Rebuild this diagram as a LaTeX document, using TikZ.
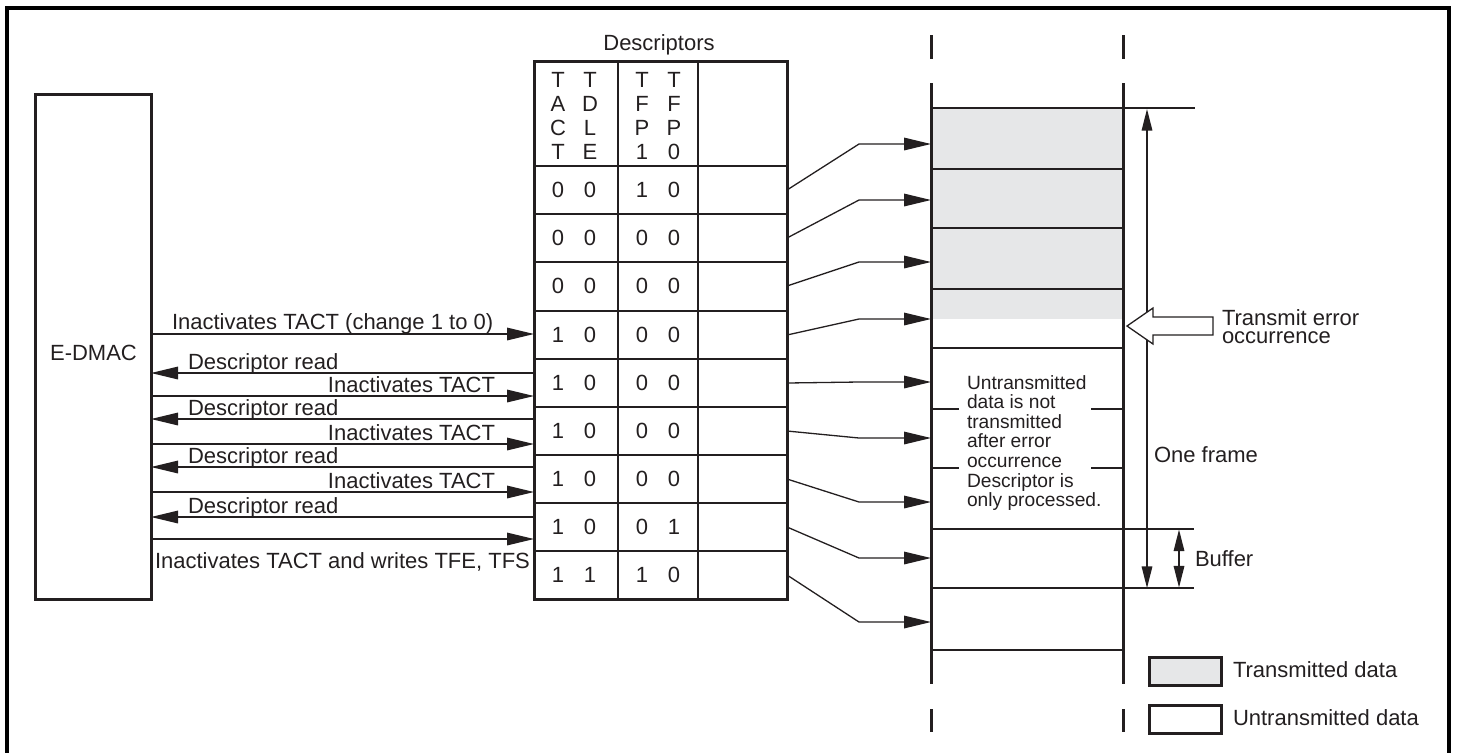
\documentclass[tikz,border=0pt]{standalone}
\usepackage{fontspec}
\setmainfont{Liberation Sans}
\usetikzlibrary{arrows.meta}
\definecolor{ink}{RGB}{35,31,32}
\definecolor{txgray}{RGB}{230,231,232}
\begin{document}
\begin{tikzpicture}[x=0.5pt,y=-0.5pt,
  every node/.style={inner sep=0pt,outer sep=0pt,text=ink,font=\fontsize{11}{12}\selectfont},
  frame/.style={draw=black,line width=2pt},
  thickbox/.style={draw=ink,line width=1.5pt},
  cellline/.style={draw=ink,line width=0.9pt},
  thin/.style={draw=ink,line width=0.7pt},
  arr/.style={draw=ink,line width=0.65pt,-{Triangle[length=13.5pt,width=6.3pt]}},
  larr/.style={draw=ink,line width=0.65pt,{Triangle[length=13.5pt,width=6.3pt]}-},
  varr/.style={draw=ink,line width=0.65pt,{Triangle[length=10.8pt,width=5.3pt]}-{Triangle[length=10.8pt,width=5.3pt]}},
  lbl/.style={anchor=base west},
  rlbl/.style={anchor=base east},
  note/.style={anchor=base west,font=\fontsize{9.6}{9.8}\selectfont},
  digit/.style={anchor=base}]
\useasboundingbox (0,0) rectangle (1457,752);

% outer frame
\draw[frame] (7,770) -- (7,8) -- (1449,8) -- (1449,770);

% E-DMAC block
\node[thickbox,minimum width=58pt,minimum height=252.5pt] (edmac) at (93,346.5) {};
\node[anchor=base] (edmaclbl) at (93.5,360) {E-DMAC};

% descriptor table
\node[anchor=base] (desclbl) at (659,50) {Descriptors};
\node[thickbox,minimum width=126.5pt,minimum height=269pt] (tbl) at (660.5,330) {};
\draw[cellline] (618,61) -- (618,599);
\draw[cellline] (698,61) -- (698,599);
\foreach \y in {166,214,262,311,359,407,455,503,551}
  \draw[cellline] (tbl.west |- 0,\y) -- (tbl.east |- 0,\y);

% header letters
\foreach \l [count=\i] in {T,A,C,T} \node[digit] (hA\i) at (558,63+24*\i) {\l};
\foreach \l [count=\i] in {T,D,L,E} \node[digit] (hB\i) at (590,63+24*\i) {\l};
\foreach \l [count=\i] in {T,F,P,1} \node[digit] (hC\i) at (642,63+24*\i) {\l};
\foreach \l [count=\i] in {T,F,P,0} \node[digit] (hD\i) at (674,63+24*\i) {\l};

% row values
\foreach \r/\a/\b/\c/\d [count=\i] in {190/0/0/1/0,238/0/0/0/0,286/0/0/0/0,335/1/0/0/0,383/1/0/0/0,431/1/0/0/0,479/1/0/0/0,527/1/0/0/1,575/1/1/1/0} {
  \node[digit] (v\i-a) at (558,\r+7.5) {\a};
  \node[digit] (v\i-b) at (590,\r+7.5) {\b};
  \node[digit] (v\i-c) at (642,\r+7.5) {\c};
  \node[digit] (v\i-d) at (674,\r+7.5) {\d};
}

% E-DMAC <-> descriptor arrows
\draw[arr] (edmac.east |- 0,334) -- (tbl.west |- 0,334);
\node[lbl] (l0) at (172,329) {Inactivates TACT (change 1 to 0)};
\foreach \y [count=\i] in {373,419,467,517} {
  \draw[larr] (edmac.east |- 0,\y) -- (tbl.west |- 0,\y);
  \node[lbl] (dr\i) at (188,\y-4) {Descriptor read};
}
\foreach \y [count=\i] in {396,444,492} {
  \draw[arr] (edmac.east |- 0,\y) -- (tbl.west |- 0,\y);
  \node[rlbl] (ia\i) at (495,\y-4) {Inactivates TACT};
}
\draw[arr] (edmac.east |- 0,539) -- (tbl.west |- 0,539);
\node[lbl] (llast) at (155,568) {Inactivates TACT and writes TFE, TFS};

% buffer area
\node[minimum width=96pt,minimum height=300.5pt] (buf) at (1027,383.5) {};
\fill[txgray] (931,108) rectangle (1123,319);
\draw[thin] (931,108) -- (1195,108);
\foreach \y in {169,228,289,348,650} \draw[thin] (931,\y) -- (1123,\y);
\foreach \y in {409,468} {
  \draw[thin] (931,\y) -- (959,\y);
  \draw[thin] (1091,\y) -- (1123,\y);
}
\draw[thin] (931,529) -- (1194,529);
\draw[thin] (931,588) -- (1194,588);
\draw[thickbox] (buf.north west) -- (buf.south west);
\draw[thickbox] (buf.north east) -- (buf.south east);
\draw[thickbox] (931,35) -- (931,59);
\draw[thickbox] (1123,35) -- (1123,59);
\draw[thickbox] (931,709) -- (931,732);
\draw[thickbox] (1123,709) -- (1123,732);

% descriptor -> buffer arrows
\foreach \s/\t in {190/144,238/200,286/262,335/319,383/382,431/438,479/502,527/558,575/622}
  \draw[arr] (tbl.east |- 0,\s) -- (859,\t) -- (buf.west |- 0,\t);

% note
\foreach \t [count=\i] in {Untransmitted,data is not,transmitted,after error,occurrence,Descriptor is,only processed.}
  \node[note] (n\i) at (967,389+19.6*\i-19.6) {\t};

% one frame / buffer dimension arrows
\draw[varr] (1147,109) -- (1147,588);
\node[lbl] (oneframe) at (1154,462) {One frame};
\draw[varr] (1179,529.5) -- (1179,587.5);
\node[lbl] (bufferlbl) at (1195,566) {Buffer};

% transmit error hollow arrow
\draw[draw=ink,line width=0.65pt,fill=white] (1127,326) -- (1153,308) -- (1153,317) -- (1213,317) -- (1213,335) -- (1153,335) -- (1153,344) -- cycle;
\node[anchor=north west,align=left,font=\fontsize{11}{9}\selectfont] (te) at (1222,309.5) {Transmit error\\occurrence};

% legend
\draw[thickbox,fill=txgray] (1149,657) rectangle (1221,685);
\node[lbl] (leg1) at (1233,677) {Transmitted data};
\draw[thickbox,fill=white] (1149,705) rectangle (1221,733);
\node[lbl] (leg2) at (1233,725) {Untransmitted data};
\end{tikzpicture}
\end{document}
